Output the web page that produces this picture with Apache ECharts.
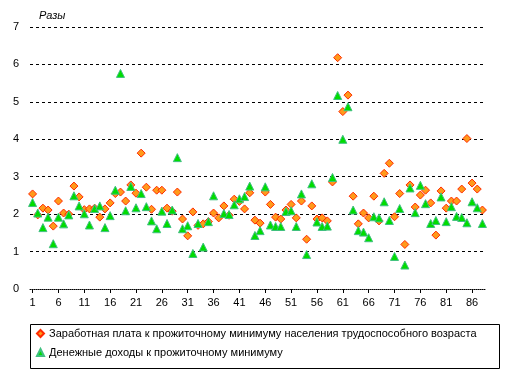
<!DOCTYPE html>
<html>
<head>
<meta charset="utf-8">
<script src="https://cdn.jsdelivr.net/npm/echarts@6/dist/echarts.min.js"></script>
<style>
html,body{margin:0;padding:0;background:#fff;}
#c{width:513px;height:372px;}
</style>
</head>
<body>
<div id="c"></div>
<script>
// Region numbers (categories)
var categories = [];
for (var k = 1; k <= 88; k++) categories.push(String(k));

var seriesNames = [
  'Заработная плата к прожиточному минимуму населения трудоспособного возраста',
  'Денежные доходы к прожиточному минимуму'
];

// Wages to subsistence minimum of working-age population
var wageRatio = [
  2.54,1.98,2.16,2.11,1.68,2.35,2.03,2.00,2.75,2.46,
  2.12,2.14,2.16,1.92,2.14,2.30,2.55,2.59,2.35,2.78,
  2.56,3.63,2.72,2.13,2.64,2.64,2.16,2.08,2.59,1.87,
  1.42,2.06,1.70,1.74,1.80,2.03,1.90,2.22,1.97,2.40,
  2.34,2.14,2.57,1.84,1.76,2.59,2.26,1.92,1.87,2.11,
  2.26,1.90,2.35,1.33,2.22,1.87,1.90,1.82,2.86,6.18,
  4.74,5.18,2.48,1.74,2.03,1.90,2.48,1.82,3.09,3.36,
  1.93,2.55,1.19,2.78,2.19,2.51,2.64,2.30,1.44,2.62,
  2.16,2.35,2.35,2.67,4.02,2.83,2.67,2.11
];

// Money income to subsistence minimum
var incomeRatio = [
  2.31,2.03,1.64,1.92,1.21,1.92,1.74,1.98,2.49,2.22,
  2.01,1.71,2.15,2.22,1.64,1.96,2.64,5.76,2.09,2.74,
  2.17,2.55,2.20,1.82,1.61,2.08,1.75,2.11,3.51,1.61,
  1.69,0.95,1.75,1.12,1.80,2.49,null,2.02,1.99,2.25,
  2.41,2.47,2.75,1.43,1.56,2.73,1.71,1.67,1.67,2.07,
  2.09,1.67,2.54,0.92,2.81,1.79,1.67,1.68,2.98,5.17,
  4.00,4.87,2.11,1.56,1.52,1.37,1.93,1.90,2.33,1.83,
  0.87,2.15,0.64,2.70,2.04,2.77,2.28,1.75,1.83,2.46,
  1.80,2.20,1.94,1.91,1.77,2.33,2.17,1.75
];

var yTicks = [0,1,2,3,4,5,6,7];

var chart = echarts.init(document.getElementById('c'), null, {renderer:'canvas'});
var font = 'Arial, "Liberation Sans", sans-serif';
chart.setOption({
  animation: false,
  backgroundColor: '#fff',
  textStyle: {fontFamily: font},
  title: {
    text: 'Разы', left: 34, top: 5,
    textStyle: {fontSize: 11, fontStyle: 'italic', fontWeight: 'normal', color: '#000', fontFamily: font}
  },
  grid: {left: 30, right: 28, top: 27, bottom: 83, containLabel: false},
  xAxis: {
    type: 'category',
    data: categories,
    boundaryGap: true,
    axisLine: {show: true, lineStyle: {color: '#000', width: 1, type: [1,1]}},
    axisTick: {show: true, interval: 4, alignWithLabel: true, length: 4, lineStyle: {color: '#000'}},
    axisLabel: {interval: 4, color: '#000', fontSize: 11, margin: 8, fontFamily: font},
    splitLine: {show: false}
  },
  yAxis: {
    type: 'value',
    min: yTicks[0], max: yTicks[yTicks.length-1], interval: 1,
    axisLine: {show: false},
    axisTick: {show: false},
    axisLabel: {color: '#000', fontSize: 11, margin: 11, fontFamily: font},
    splitLine: {show: true, showMinLine: false, lineStyle: {color: '#000', width: 1, type: [3,3]}}
  },
  legend: {
    orient: 'vertical',
    left: 31, top: 322,
    itemWidth: 7, itemHeight: 7, itemGap: 6,
    textStyle: {fontSize: 11, color: '#000', fontFamily: font, lineHeight: 13},
    data: seriesNames
  },
  graphic: [{
    type: 'rect', left: 28, top: 322,
    shape: {width: 469, height: 44},
    style: {fill: 'none', stroke: '#000', lineWidth: 1}
  }],
  series: [
    {
      name: seriesNames[0], type: 'scatter', data: wageRatio,
      symbol: 'diamond', symbolSize: 8,
      itemStyle: {color: '#FF9a1a', borderColor: '#FF2a00', borderWidth: 1, opacity: 1}
    },
    {
      name: seriesNames[1], type: 'scatter', data: incomeRatio,
      symbol: 'triangle', symbolSize: [8,8],
      itemStyle: {color: '#00DD00', borderColor: '#40C080', borderWidth: 1, opacity: 1}
    }
  ]
});
</script>
</body>
</html>
